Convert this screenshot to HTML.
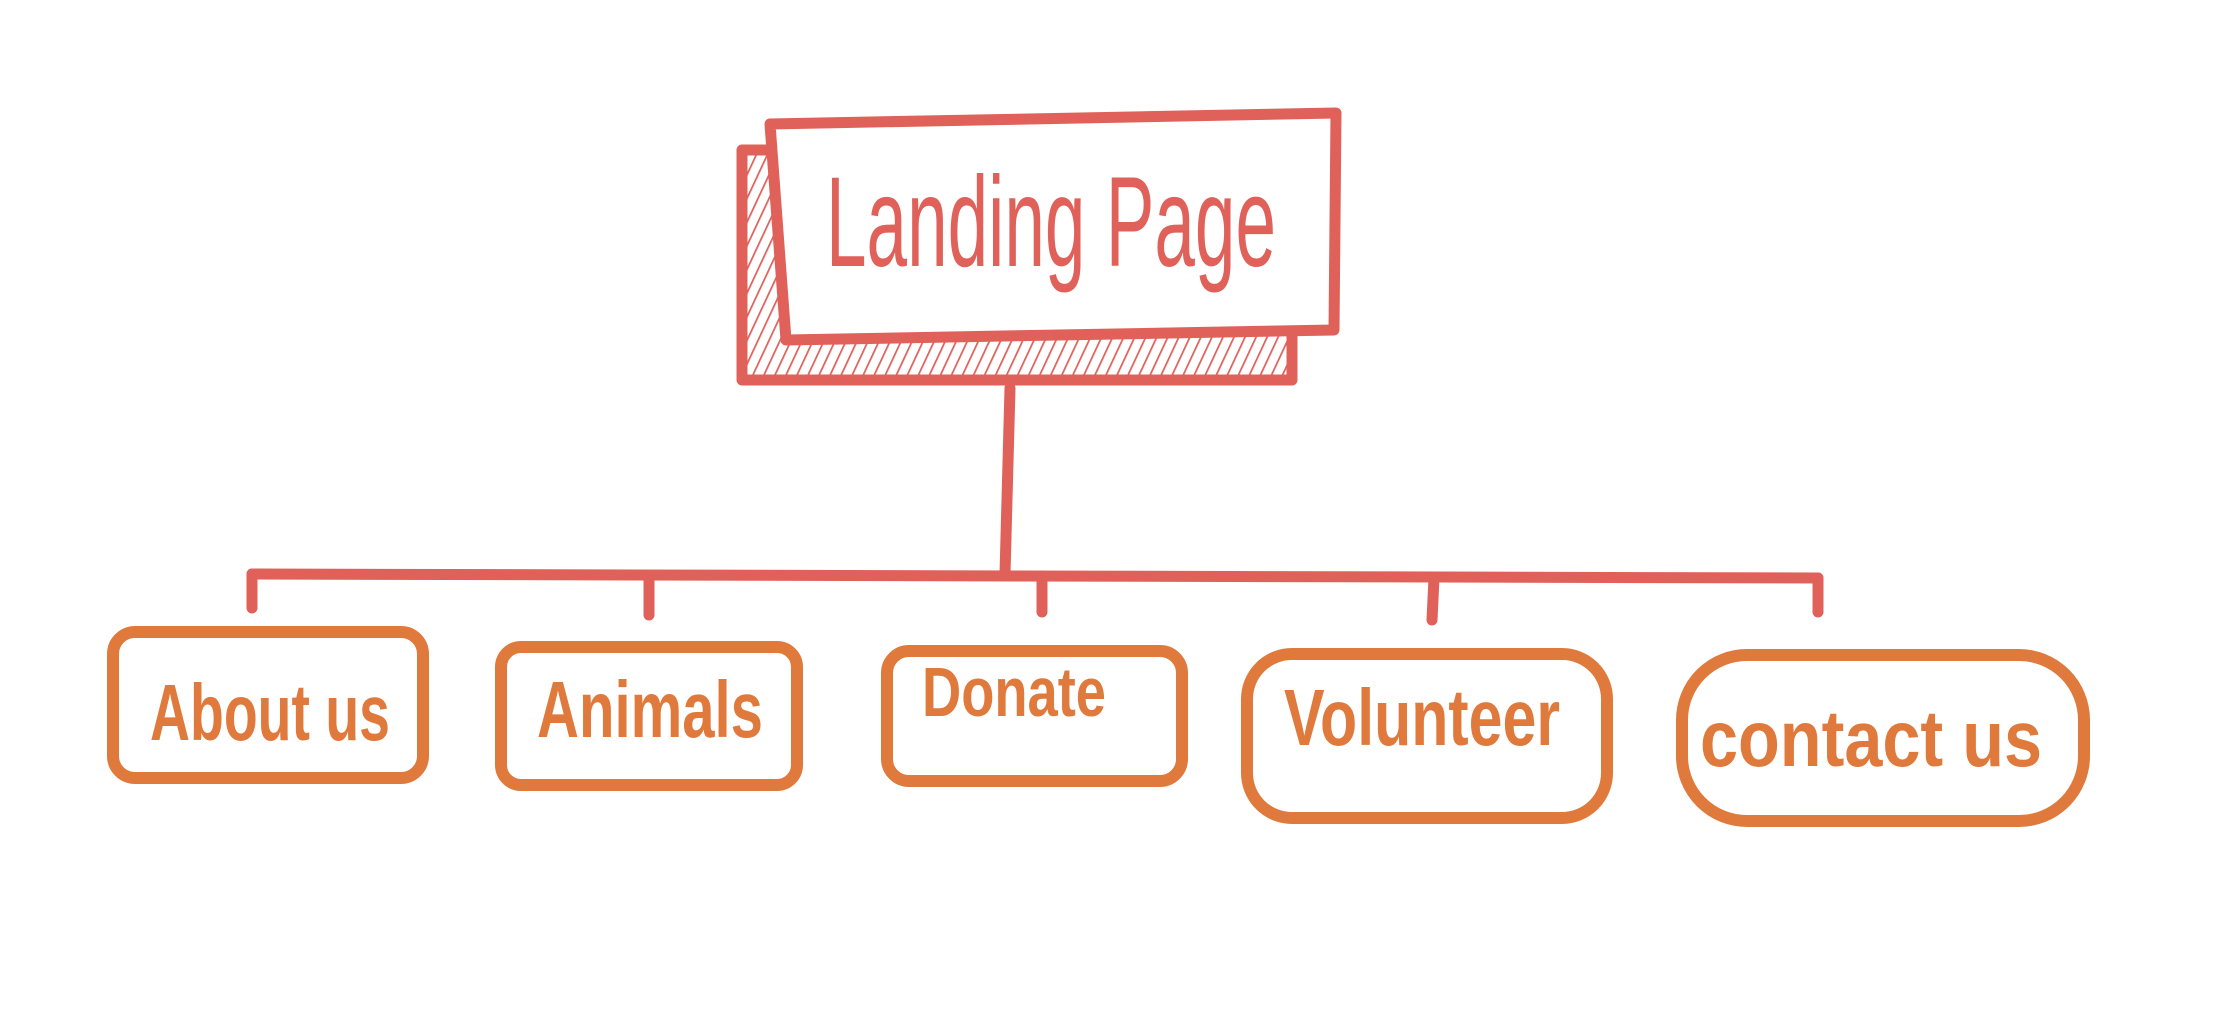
<!DOCTYPE html>
<html><head><style>html,body{margin:0;padding:0;background:#fff}svg{display:block}</style></head>
<body>
<svg width="2224" height="1017" viewBox="0 0 2224 1017" xmlns="http://www.w3.org/2000/svg">
<defs>
<pattern id="h" width="10" height="10" patternUnits="userSpaceOnUse" patternTransform="rotate(25)">
<line x1="0" y1="0" x2="0" y2="10" stroke="#e0605a" stroke-width="3.5"/>
</pattern>
</defs>
<g fill="none" stroke="#e0605a" stroke-width="11" stroke-linejoin="round" stroke-linecap="round">
<rect x="742" y="150" width="550" height="230" fill="url(#h)"/>
<path d="M770 124 L1336 113 L1334 330 L786 340 Z" fill="#fff"/>
<path d="M1010 388 L1005 574"/>
<path d="M252 574 L1818 578"/>
<path d="M252 574 L252 608 M649 576 L649 615 M1042 576 L1042 612 M1434 578 L1432 620 M1818 578 L1818 612"/>
</g>
<g fill="none" stroke="#e07a3c" stroke-width="12" stroke-linejoin="round" stroke-linecap="round">
<rect x="113" y="632" width="310" height="146" rx="22"/>
<rect x="501" y="647" width="296" height="138" rx="20"/>
<rect x="887" y="651" width="295" height="130" rx="22"/>
<rect x="1247" y="654" width="360" height="164" rx="45"/>
<rect x="1682" y="655" width="402" height="166" rx="65"/>
</g>
<g font-family="'Liberation Sans Narrow','Liberation Sans',sans-serif">
<text x="826" y="266" font-size="128" fill="#e0605a" textLength="450" lengthAdjust="spacingAndGlyphs">Landing Page</text>
<g fill="#e07a3c" font-size="80" font-weight="bold">
<text x="150" y="740" textLength="240" lengthAdjust="spacingAndGlyphs">About us</text>
<text x="537" y="737" textLength="226" lengthAdjust="spacingAndGlyphs">Animals</text>
<text x="922" y="716" font-size="70" textLength="184" lengthAdjust="spacingAndGlyphs">Donate</text>
<text x="1284" y="745" textLength="276" lengthAdjust="spacingAndGlyphs">Volunteer</text>
<text x="1700" y="766" textLength="342" lengthAdjust="spacingAndGlyphs">contact us</text>
</g>
</g>
</svg>
</body></html>
